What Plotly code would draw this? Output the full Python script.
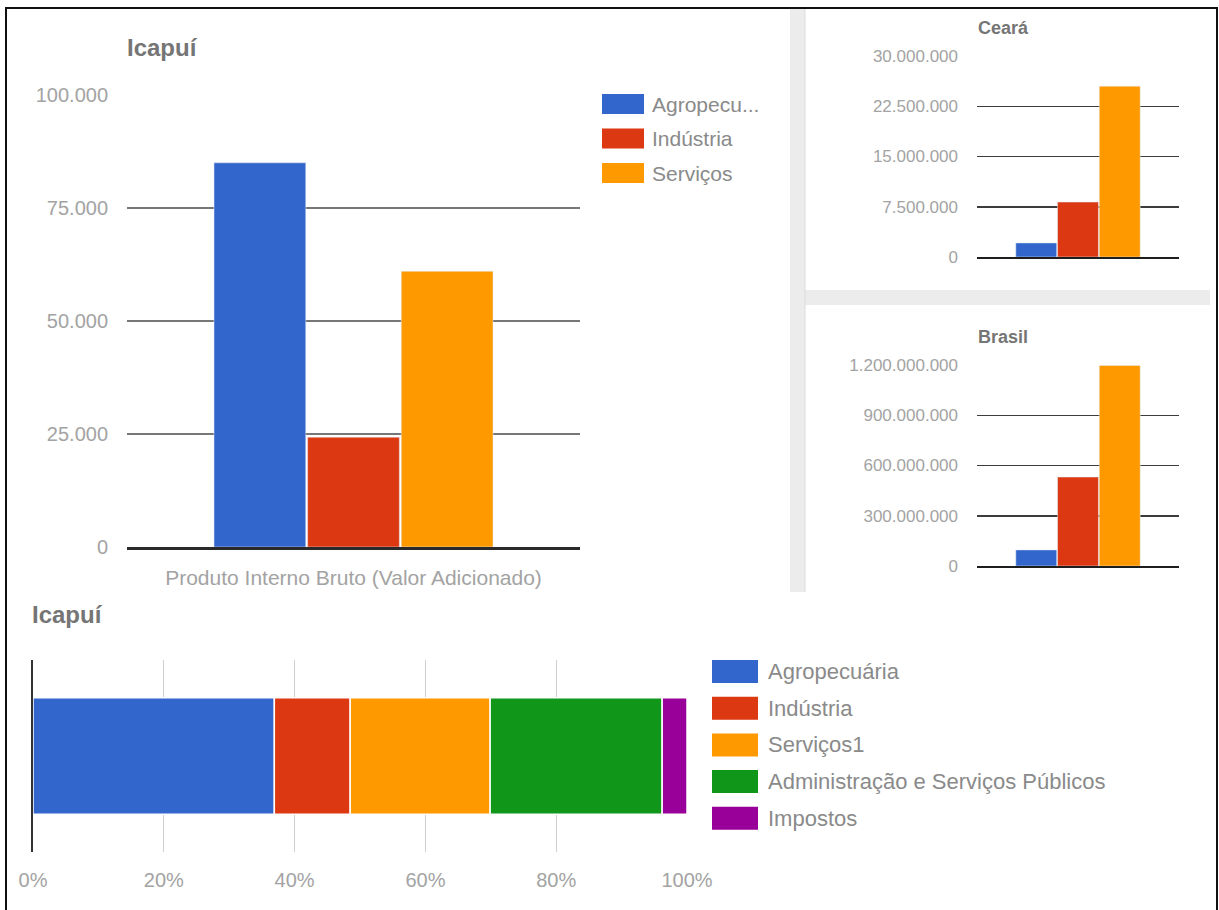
import numpy as np
import plotly.graph_objects as go

W, H = 1219, 910
FONT = "Liberation Sans, Arial, sans-serif"

# Valor adicionado por setor (mil R$)
setores = ["Agropecuária", "Indústria", "Serviços"]
legenda_setores = ["Agropecu...", "Indústria", "Serviços"]
cores_setores = ["#3366cc", "#dc3912", "#ff9900"]
categoria = ["Produto Interno Bruto (Valor Adicionado)"]

icapui_vab = [85000, 24300, 61000]
ceara_vab = [2100000, 8200000, 25500000]
brasil_vab = [96000000, 531000000, 1197000000]

# Composição percentual do PIB de Icapuí
composicao_rotulos = [
    "Agropecuária",
    "Indústria",
    "Serviços1",
    "Administração e Serviços Públicos",
    "Impostos",
]
composicao_pct = [36.9, 11.6, 21.4, 26.3, 3.8]
cores_composicao = ["#3366cc", "#dc3912", "#ff9900", "#109618", "#990099"]


def px_x(x):
    return x / W


def px_y(y):
    return 1 - y / H


fig = go.Figure()

# Colunas agrupadas: Icapuí, Ceará e Brasil
for i, nome in enumerate(setores):
    fig.add_trace(go.Bar(x=categoria, y=[icapui_vab[i]], name=nome,
                         marker_color=cores_setores[i], xaxis="x", yaxis="y",
                         showlegend=False))
    fig.add_trace(go.Bar(x=["Ceará"], y=[ceara_vab[i]], name=nome,
                         marker_color=cores_setores[i], xaxis="x2", yaxis="y2",
                         showlegend=False))
    fig.add_trace(go.Bar(x=["Brasil"], y=[brasil_vab[i]], name=nome,
                         marker_color=cores_setores[i], xaxis="x3", yaxis="y3",
                         showlegend=False))

# Barra horizontal 100% empilhada
bases = np.concatenate([[0], np.cumsum(composicao_pct)[:-1]])
for i, nome in enumerate(composicao_rotulos):
    fig.add_trace(go.Bar(y=["Icapuí"], x=[composicao_pct[i]], base=[bases[i]],
                         orientation="h", name=nome, offsetgroup="comp",
                         marker=dict(color=cores_composicao[i],
                                     line=dict(color="white", width=1.5)),
                         xaxis="x4", yaxis="y4", showlegend=False))

tick_font = dict(family=FONT, size=20, color="#a3a3a3")
small_tick_font = dict(family=FONT, size=17, color="#a3a3a3")

fig.update_layout(
    width=W, height=H, autosize=False,
    margin=dict(l=0, r=0, t=0, b=0, pad=0),
    paper_bgcolor="white", plot_bgcolor="white",
    separators=",.",
    barmode="group", bargap=0.38, bargroupgap=0.02,
    font=dict(family=FONT),
    xaxis=dict(domain=[px_x(127), px_x(580)], anchor="y", showgrid=False,
               automargin=False,
               showline=True, linecolor="#2a2a2a", linewidth=2.5,
               ticks="", tickfont=dict(family=FONT, size=21, color="#a3a3a3"),
               ticklabelstandoff=10),
    yaxis=dict(domain=[px_y(547), px_y(95)], anchor="x", range=[0, 100000],
               automargin=False,
               dtick=25000, tickformat=",d", gridcolor="#777777", gridwidth=2,
               zeroline=False, tickfont=tick_font, ticklabelstandoff=18),
    xaxis2=dict(domain=[px_x(977), px_x(1179)], anchor="y2", showgrid=False,
                automargin=False,
                showline=True, linecolor="#1e1e1e", linewidth=2,
                showticklabels=False, ticks=""),
    yaxis2=dict(domain=[px_y(257), px_y(56)], anchor="x2", range=[0, 30000000],
                automargin=False,
                dtick=7500000, tickformat=",d", gridcolor="#3c3c3c", gridwidth=1.5,
                zeroline=False, tickfont=small_tick_font, ticklabelstandoff=18),
    xaxis3=dict(domain=[px_x(977), px_x(1179)], anchor="y3", showgrid=False,
                automargin=False,
                showline=True, linecolor="#1e1e1e", linewidth=2,
                showticklabels=False, ticks=""),
    yaxis3=dict(domain=[px_y(566), px_y(365)], anchor="x3", range=[0, 1200000000],
                automargin=False,
                dtick=300000000, tickformat=",d", gridcolor="#3c3c3c", gridwidth=1.5,
                zeroline=False, tickfont=small_tick_font, ticklabelstandoff=18),
    xaxis4=dict(domain=[px_x(33), px_x(687)], anchor="y4", range=[0, 100],
                automargin=False,
                dtick=20, ticksuffix="%", gridcolor="#cfcfcf", gridwidth=1,
                zeroline=False, tickfont=tick_font, ticklabelstandoff=14),
    yaxis4=dict(domain=[px_y(852), px_y(660)], anchor="x4", showgrid=False,
                automargin=False,
                showline=True, linecolor="#333333", linewidth=2,
                showticklabels=False, ticks=""),
)

annotations = []
shapes = []


def titulo(texto, x, y, size):
    annotations.append(dict(text=f"<b>{texto}</b>", x=px_x(x), y=px_y(y),
                            xref="paper", yref="paper", xanchor="left",
                            yanchor="middle", showarrow=False,
                            font=dict(family=FONT, size=size, color="#757575")))


titulo("Icapuí", 125, 47, 24)
titulo("Ceará", 976, 28, 18)
titulo("Brasil", 976, 337, 18)
titulo("Icapuí", 30, 614, 24)


def legenda(rotulos, cores, x0, y0, sw, sh, passo, tx, size):
    for i, (rot, cor) in enumerate(zip(rotulos, cores)):
        top = y0 + i * passo
        shapes.append(dict(type="rect", xref="paper", yref="paper",
                           x0=px_x(x0), x1=px_x(x0 + sw),
                           y0=px_y(top + sh), y1=px_y(top),
                           fillcolor=cor, line=dict(width=0)))
        annotations.append(dict(text=rot, x=px_x(tx), y=px_y(top + sh / 2),
                                xref="paper", yref="paper", xanchor="left",
                                yanchor="middle", showarrow=False,
                                font=dict(family=FONT, size=size, color="#8a8a8a")))


legenda(legenda_setores, cores_setores, 602, 94, 42, 20, 34.5, 650, 21)
legenda(composicao_rotulos, cores_composicao, 712, 660, 46, 23, 36.7, 766, 22)

# Moldura e separadores dos painéis
shapes.append(dict(type="rect", xref="paper", yref="paper",
                   x0=px_x(790), x1=px_x(805), y0=px_y(592), y1=px_y(8),
                   fillcolor="#ececec", line=dict(width=0), layer="below"))
shapes.append(dict(type="rect", xref="paper", yref="paper",
                   x0=px_x(805), x1=px_x(1210), y0=px_y(305), y1=px_y(290),
                   fillcolor="#ececec", line=dict(width=0), layer="below"))
shapes.append(dict(type="line", xref="paper", yref="paper",
                   x0=px_x(805), x1=px_x(805), y0=px_y(592), y1=px_y(8),
                   line=dict(color="#dcdcdc", width=1)))
shapes.append(dict(type="rect", xref="paper", yref="paper",
                   x0=px_x(6), x1=px_x(1217), y0=px_y(925), y1=px_y(8),
                   line=dict(color="#111111", width=2), fillcolor="rgba(0,0,0,0)"))

fig.update_layout(annotations=annotations, shapes=shapes)

fig.write_html("out.html", config={"displayModeBar": False, "staticPlot": True})
